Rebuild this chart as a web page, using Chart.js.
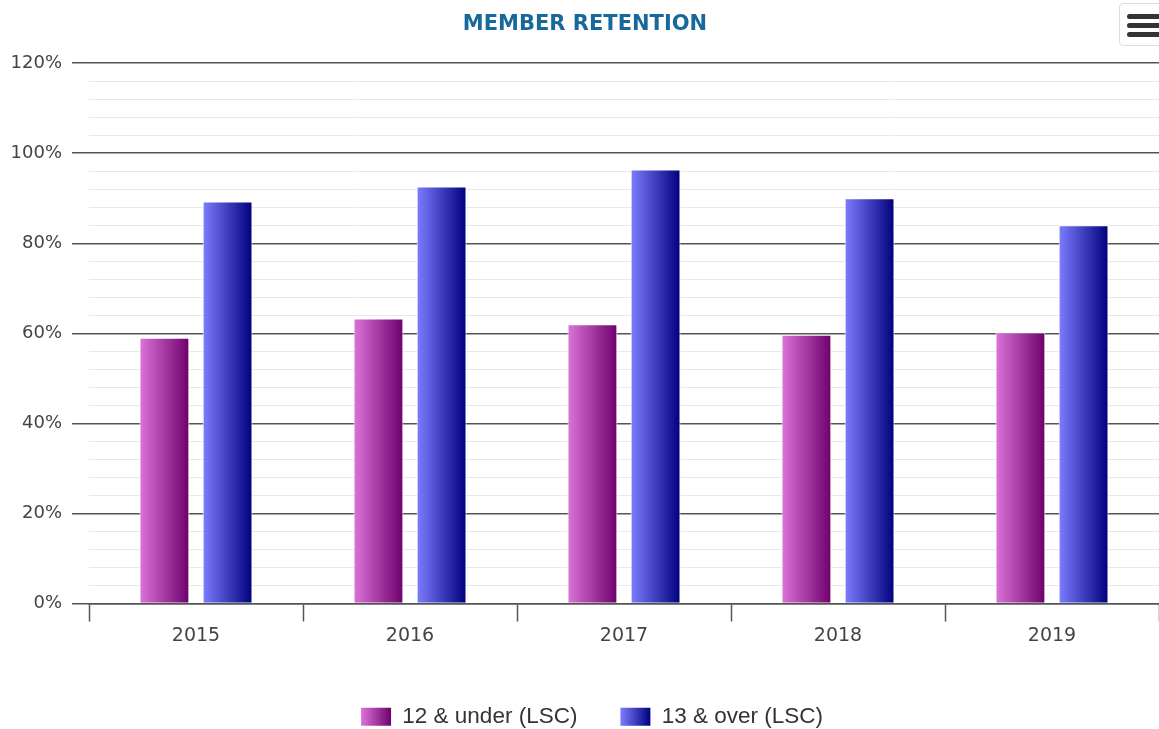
<!DOCTYPE html>
<html>
<head>
<meta charset="utf-8">
<script src="https://cdn.jsdelivr.net/npm/chart.js@4/dist/chart.umd.min.js"></script>
<style>
  body { margin: 0; background: #fff; }
  #wrap { position: relative; width: 1159px; height: 729px; }
  #menu {
    position: absolute; right: -4px; top: 3px; width: 42px; height: 41px;
    border: 1px solid #ddd; border-radius: 4px; background: #fff;
  }
  #menu span {
    position: absolute; left: 7px; width: 34px; height: 5px;
    background: #333; border-radius: 3px;
  }
</style>
</head>
<body>
<div id="wrap">
  <canvas id="retentionChart"></canvas>
  <div id="menu"><span style="top:10px"></span><span style="top:19px"></span><span style="top:28px"></span></div>
</div>
<script>
const years = ["2015", "2016", "2017", "2018", "2019"];
const under12 = [59, 63.3, 62, 59.7, 60.2];
const over13 = [89.3, 92.6, 96.4, 90, 84];

// left -> right colour of each series' horizontal gradient
const shades = [
  ["#dc74d8", "#6e006c"],
  ["#7d7dff", "#00007e"]
];

const data = {
  labels: years,
  datasets: [
    { label: "12 & under (LSC)", data: under12, backgroundColor: shades[0][1] },
    { label: "13 & over (LSC)", data: over13, backgroundColor: shades[1][1] }
  ]
};

function hGradient(ctx, x0, x1, stops) {
  const g = ctx.createLinearGradient(x0, 0, x1, 0);
  g.addColorStop(0, stops[0]);
  g.addColorStop(1, stops[1]);
  return g;
}

const gradients = {
  id: "gradients",
  afterLayout(chart) {
    // the original centres title and legend a little right of the canvas middle
    const legend = chart.legend;
    legend.left += 12.5;
    legend.right += 12.5;
    legend.legendHitBoxes.forEach((b) => { b.left += 12.5; });
    chart.titleBlock.left += 5.5;
    chart.titleBlock.right += 5.5;
  },
  beforeDraw(chart) {
    const ctx = chart.ctx;
    const legend = chart.legend;
    legend.legendItems.forEach((item, i) => {
      const box = legend.legendHitBoxes[i];
      item.fillStyle = hGradient(ctx, box.left, box.left + 30, shades[item.datasetIndex]);
      item.lineWidth = 0;
    });
  },
  beforeDatasetsDraw(chart) {
    const ctx = chart.ctx;
    chart.data.datasets.forEach((ds, i) => {
      chart.getDatasetMeta(i).data.forEach((bar) => {
        const g = hGradient(ctx, bar.x - bar.width / 2, bar.x + bar.width / 2, shades[i]);
        bar.options = Object.assign({}, bar.options, { backgroundColor: g });
      });
    });
  }
};

const config = {
  type: "bar",
  data: data,
  options: {
    responsive: true,
    maintainAspectRatio: false,
    animation: false,
    datasets: {
      bar: {
        categoryPercentage: 0.59,
        barPercentage: 0.79,
        borderColor: "#ffffff",
        borderWidth: 1
      }
    },
    layout: { padding: { left: 0, right: 0, top: 0, bottom: -9 } },
    plugins: {
      title: {
        display: true,
        text: "MEMBER RETENTION",
        color: "#17689b",
        font: { family: "DejaVu Sans", size: 21, weight: "bold" },
        padding: { top: 12, bottom: 26 }
      },
      legend: {
        position: "bottom",
        labels: {
          boxWidth: 30,
          boxHeight: 18,
          padding: 43,
          color: "#333",
          font: { family: "Liberation Sans", size: 22.5 }
        }
      },
      tooltip: { enabled: false }
    },
    scales: {
      x: {
        afterFit: (s) => { s.height = 59; },
        grid: {
          offset: true,
          drawOnChartArea: false,
          tickLength: 18,
          tickColor: "#555",
          tickWidth: 1.5
        },
        border: { color: "#555", width: 1.5 },
        ticks: {
          color: "#444",
          padding: 3,
          font: { family: "DejaVu Sans", size: 19 }
        }
      },
      y: {
        min: 0,
        max: 120,
        afterFit: (s) => { s.width = 89; },
        border: { display: false },
        grid: {
          color: (c) => (Math.round(c.tick.value) % 20 === 0 ? "#555" : "#e8e8e8"),
          lineWidth: (c) => (Math.round(c.tick.value) % 20 === 0 ? 1.5 : 1),
          tickColor: (c) => (Math.round(c.tick.value) % 20 === 0 ? "#555" : "rgba(0,0,0,0)"),
          tickLength: 17
        },
        ticks: {
          stepSize: 4,
          autoSkip: false,
          padding: 10,
          color: "#444",
          font: { family: "DejaVu Sans", size: 18 },
          callback: (v) => (Math.round(v) % 20 === 0 ? Math.round(v) + "%" : "")
        }
      }
    }
  },
  plugins: [gradients]
};

let myChart = new Chart(document.getElementById("retentionChart"), config);
</script>
</body>
</html>
